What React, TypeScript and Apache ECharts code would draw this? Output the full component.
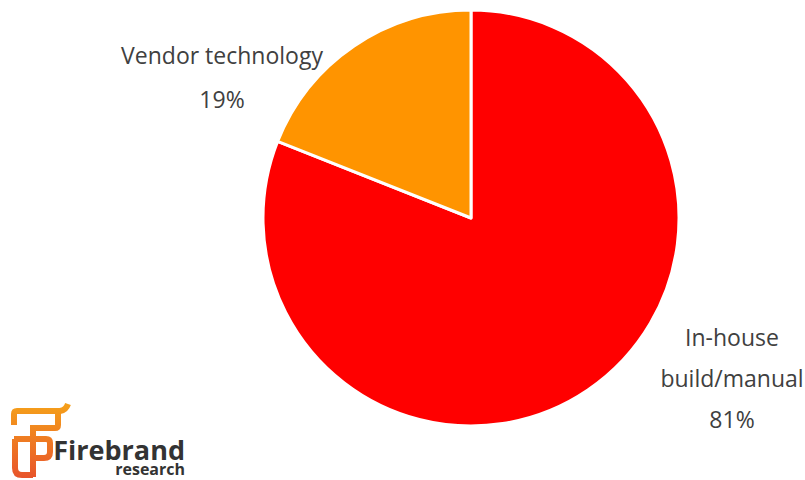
import React, { useEffect, useRef } from "react";
import * as echarts from "echarts";

const categories = ["In-house\nbuild/manual", "Vendor technology"];
const shares = [81, 19];
const colors = ["#ff0000", "#ff9400"];

const logoPath =
  "M 14 425 L 14 414 Q 14 411 17 411 L 60 411 Q 66 410 68 404 " +
  "M 30 428 L 55 428 Q 58 428 58 425 L 58 412 " +
  "M 33 428 L 33 477 " +
  "M 14 439 L 46 439 Q 50 439 50 443 L 50 452 Q 50 458 44 458 L 35 458 " +
  "M 15 439 L 15 468 Q 15 475 22 475 L 33 475";

let registered = false;

export default function App() {
  const ref = useRef<HTMLDivElement>(null);
  useEffect(() => {
    document.body.style.margin = "0";
    if (!registered) {
      echarts.graphic.registerShape("logo", echarts.graphic.extendPath(logoPath, {}) as any);
      registered = true;
    }
    const chart = echarts.init(ref.current!, null, { renderer: "svg" });
    const labelPos = [
      { x: 732, y: 378, lh: 41 },
      { x: 222, y: 77, lh: 44 },
    ];
    chart.setOption({
      animation: false,
      backgroundColor: "#ffffff",
      series: [
        {
          type: "pie",
          center: [471, 218],
          radius: 208,
          startAngle: 90,
          clockwise: true,
          itemStyle: { borderColor: "#ffffff", borderWidth: 3 },
          label: {
            show: true,
            position: "outside",
            formatter: "{b}\n{c}%",
            fontFamily: "Open Sans",
            fontSize: 23,
            color: "#404040",
            align: "center",
          },
          labelLine: { show: false },
          labelLayout: (params: any) => {
            const p = labelPos[params.dataIndex];
            return { x: p.x, y: p.y, align: "center", verticalAlign: "middle" };
          },
          data: categories.map((name, i) => ({
            name,
            value: shares[i],
            itemStyle: { color: colors[i] },
            label: { lineHeight: labelPos[i].lh },
          })),
        },
      ],
      graphic: [
        {
          type: "logo",
          x: 0,
          y: 0,
          style: {
            fill: null,
            lineWidth: 6,
            stroke: {
              type: "linear",
              x: 0,
              y: 0,
              x2: 0,
              y2: 1,
              colorStops: [
                { offset: 0, color: "#f5a01a" },
                { offset: 1, color: "#e8552b" },
              ],
            },
          },
        },
        {
          type: "text",
          x: 185,
          y: 437,
          style: {
            text: "{a|Firebrand}\n{b|research}",
            align: "right",
            verticalAlign: "top",
            fill: "#333333",
            rich: {
              a: {
                fontFamily: "Open Sans",
                fontWeight: "bold",
                fontSize: 27,
                lineHeight: 24,
                fill: "#333333",
              },
              b: {
                fontFamily: "Open Sans",
                fontWeight: "bold",
                fontSize: 16,
                lineHeight: 16,
                fill: "#333333",
              },
            },
          },
        },
      ],
    });
    return () => chart.dispose();
  }, []);
  return <div ref={ref} style={{ width: 805, height: 480 }} />;
}
